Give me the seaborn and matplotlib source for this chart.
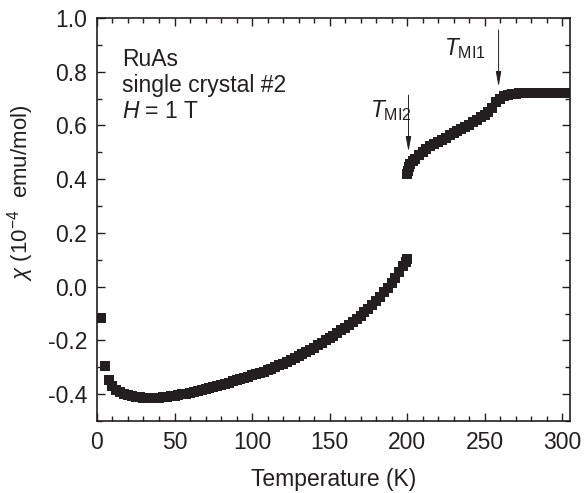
"""RuAs single crystal #2: magnetic susceptibility vs temperature"""

import matplotlib
matplotlib.use("Agg")
import matplotlib.pyplot as plt
from matplotlib.ticker import MultipleLocator
import seaborn as sns
import pandas as pd

# low-temperature branch (below T_MI2)
temp_low = [2.6, 5.2, 7.9, 10, 12.5, 15, 17.5, 20, 22.5, 25, 27.5, 30, 32.5, 35,
            37.5, 40, 42.5, 45, 47.5, 50, 52.5, 55, 57.5, 60, 62.5, 65, 67.5,
            70, 72.5, 75, 77.5, 80, 82.5, 85, 87.5, 90, 92.5, 95, 97.5, 100,
            102.5, 105, 107.5, 110, 112.5, 115, 117.5, 120, 122.5, 125, 127.5,
            130, 132.5, 135, 137.5, 140, 142.5, 145, 147.5, 150, 152.5, 155,
            157.5, 160, 162.5, 165, 167.5, 170, 172.5, 175, 177.5, 180, 182.5,
            185, 187.5, 190, 192.5, 195, 197.5, 199, 200]
chi_low = [-0.118, -0.296, -0.348, -0.368, -0.383, -0.393, -0.399, -0.404,
           -0.408, -0.410, -0.412, -0.413, -0.414, -0.414, -0.414, -0.413,
           -0.412, -0.410, -0.408, -0.406, -0.404, -0.401, -0.398, -0.395,
           -0.392, -0.388, -0.385, -0.381, -0.377, -0.373, -0.369, -0.365,
           -0.361, -0.357, -0.352, -0.348, -0.344, -0.339, -0.335, -0.330,
           -0.326, -0.321, -0.316, -0.311, -0.305, -0.299, -0.293, -0.287,
           -0.280, -0.273, -0.266, -0.259, -0.251, -0.243, -0.235, -0.227,
           -0.218, -0.209, -0.200, -0.191, -0.182, -0.172, -0.163, -0.153,
           -0.142, -0.131, -0.120, -0.108, -0.095, -0.082, -0.067, -0.052,
           -0.037, -0.021, -0.004, 0.013, 0.032, 0.054, 0.077, 0.090, 0.103]

# high-temperature branch (above T_MI2)
temp_high = [200.2, 200.5, 201, 202, 203.5, 205, 207.5, 210, 212.5, 215, 217.5,
             220, 222.5, 225, 227.5, 230, 232.5, 235, 237.5, 240, 242.5, 245,
             247.5, 250, 252.5, 255, 257.5, 260, 262.5, 265, 267.5, 270, 272.5,
             275, 277.5, 280, 282.5, 285, 287.5, 290, 292.5, 295, 297.5, 300,
             302]
chi_high = [0.418, 0.432, 0.445, 0.458, 0.467, 0.476, 0.489, 0.500, 0.512,
            0.522, 0.531, 0.539, 0.547, 0.554, 0.563, 0.571, 0.579, 0.587,
            0.595, 0.603, 0.612, 0.621, 0.630, 0.639, 0.650, 0.665, 0.686,
            0.700, 0.708, 0.713, 0.716, 0.718, 0.719, 0.720, 0.721, 0.721,
            0.722, 0.722, 0.722, 0.722, 0.722, 0.722, 0.721, 0.721, 0.721]

df = pd.DataFrame({"T": temp_low + temp_high, "chi": chi_low + chi_high})

sns.set_style("ticks")
plt.rcParams["font.family"] = ["Liberation Sans", "DejaVu Sans"]
plt.rcParams["mathtext.fontset"] = "custom"
plt.rcParams["mathtext.rm"] = "Liberation Sans"
plt.rcParams["mathtext.it"] = "Liberation Sans:italic"
plt.rcParams["axes.unicode_minus"] = False

ink = "#231f20"
fs = 16.5

fig = plt.figure(figsize=(5.86, 4.93), dpi=100)
ax = fig.add_axes([0.1655, 0.146, 0.807, 0.8175])

sns.scatterplot(data=df, x="T", y="chi", marker="s", s=48, color=ink,
                linewidth=0, ax=ax, legend=False)

ax.set_xlim(0, 305)
ax.set_ylim(-0.5, 1.0)
ax.xaxis.set_major_locator(MultipleLocator(50))
ax.xaxis.set_minor_locator(MultipleLocator(10))
ax.yaxis.set_major_locator(MultipleLocator(0.2))
ax.yaxis.set_minor_locator(MultipleLocator(0.1))
ax.yaxis.set_major_formatter(plt.FormatStrFormatter("%.1f"))
ax.tick_params(which="both", direction="in", top=True, right=True,
               colors=ink, labelsize=fs, width=1.0)
ax.tick_params(which="major", length=6, pad=7)
ax.tick_params(which="minor", length=3.5)
for sp in ax.spines.values():
    sp.set_linewidth(1.2)
    sp.set_color(ink)

ax.set_xlabel("Temperature (K)", fontsize=fs, color=ink, labelpad=10)
ax.set_ylabel(r"$\chi$ (10$^{-4}$  emu/mol)", fontsize=16, color=ink)
ax.yaxis.set_label_coords(-0.13, 0.566)

# sample info
ax.text(16, 0.821, "RuAs", fontsize=fs, color=ink, va="baseline")
ax.text(16, 0.724, "single crystal #2", fontsize=fs, color=ink, va="baseline")
ax.text(16, 0.628, r"$H$ = 1 T", fontsize=fs, color=ink, va="baseline")

# transition markers
arrow = dict(arrowstyle="-|>,head_width=0.16,head_length=0.9", lw=0.7,
             color=ink, shrinkA=0, shrinkB=0)
ax.annotate("", xy=(200.9, 0.502), xytext=(200.9, 0.713), arrowprops=arrow)
ax.text(176, 0.631, r"$T_{\rm MI2}$", fontsize=fs, color=ink, va="baseline")
ax.annotate("", xy=(259, 0.744), xytext=(259, 0.955), arrowprops=arrow)
ax.text(224, 0.862, r"$T_{\rm MI1}$", fontsize=fs, color=ink, va="baseline")

fig.savefig("out.png", dpi=100)
